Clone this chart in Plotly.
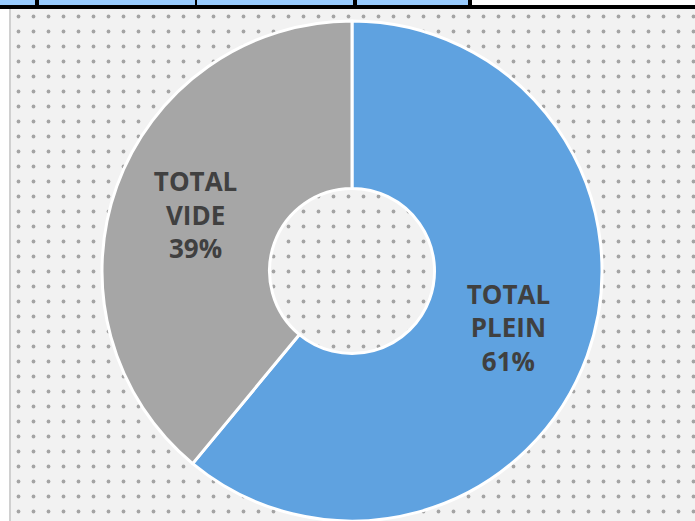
import plotly.graph_objects as go

categories = ["TOTAL<br>PLEIN", "TOTAL<br>VIDE"]
values = [61, 39]
colors = ["#5FA2E0", "#A6A6A6"]

W, H = 695, 521
fig = go.Figure()

# dotted chart-area background
fig.add_trace(go.Bar(
    x=[0.5], y=[1], width=[1], xaxis="x", yaxis="y",
    marker=dict(color="#F2F2F2", line=dict(width=0),
                pattern=dict(shape=".", fgcolor="#555555", bgcolor="#F2F2F2", size=15, solidity=0.05)),
    hoverinfo="skip", showlegend=False,
))

cx, cy, r = 352, 271, 250
fig.add_trace(go.Pie(
    labels=categories, values=values, sort=False, direction="clockwise", rotation=0,
    hole=0.33,
    marker=dict(colors=colors, line=dict(color="white", width=3)),
    texttemplate="<b>%{label}<br>%{percent:.0%}</b>", textinfo="text",
    textposition="inside", insidetextorientation="horizontal",
    textfont=dict(family="Open Sans, sans-serif", size=26, color="#404040"),
    domain=dict(x=[(cx - r) / W, (cx + r) / W], y=[(H - cy - r) / H, (H - cy + r) / H]),
    showlegend=False,
))

shapes = []
# top strip remnants
shapes.append(dict(type="rect", xref="paper", yref="paper", x0=0, x1=1, y0=1 - 9 / H, y1=1,
                   fillcolor="black", line=dict(width=0), layer="above"))
for a, b in [(0, 35), (39, 195), (197, 353), (357, 468)]:
    shapes.append(dict(type="rect", xref="paper", yref="paper", x0=a / W, x1=b / W,
                       y0=1 - 5 / H, y1=1, fillcolor="#99CCFF", line=dict(width=0), layer="above"))
shapes.append(dict(type="rect", xref="paper", yref="paper", x0=472 / W, x1=1,
                   y0=1 - 5 / H, y1=1, fillcolor="white", line=dict(width=0), layer="above"))
# left border of the chart area
shapes.append(dict(type="line", xref="paper", yref="paper", x0=10 / W, x1=10 / W, y0=0, y1=1 - 9 / H,
                   line=dict(color="#D0D0D0", width=2), layer="above"))

fig.update_layout(
    width=W, height=H, margin=dict(l=0, r=0, t=0, b=0),
    paper_bgcolor="white", plot_bgcolor="rgba(0,0,0,0)",
    xaxis=dict(domain=[11 / W, 1], range=[0, 1], visible=False, fixedrange=True),
    yaxis=dict(domain=[0, 1 - 9 / H], range=[0, 1], visible=False, fixedrange=True),
    bargap=0, shapes=shapes,
)

fig.write_html("out.html", config={"displayModeBar": False},
               post_script="document.body.style.margin='0';document.body.style.overflow='hidden';")
